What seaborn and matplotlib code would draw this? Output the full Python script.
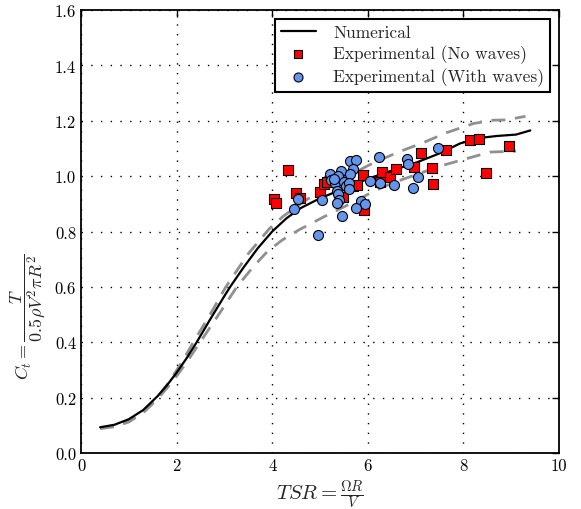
import numpy as np
import pandas as pd
import matplotlib
matplotlib.use("Agg")
import matplotlib.pyplot as plt
import seaborn as sns

# ---- data ----
num_tsr = [0.4, 0.7, 1.0, 1.3, 1.6, 1.8, 2.0, 2.2, 2.42, 2.7, 3.0, 3.12, 3.4, 3.7, 4.0,
           4.3, 4.6, 5.0, 5.5, 6.0, 6.5, 7.0, 7.5, 7.93, 8.35, 8.7, 9.1, 9.4]
num_ct = [0.093, 0.102, 0.122, 0.155, 0.205, 0.245, 0.29, 0.34, 0.4, 0.482, 0.567, 0.6,
          0.67, 0.74, 0.80, 0.848, 0.885, 0.92, 0.955, 0.99, 1.02, 1.048, 1.082, 1.118,
          1.138, 1.145, 1.15, 1.165]

up_tsr = [0.4, 0.7, 1.0, 1.3, 1.6, 1.9, 2.2, 2.35, 2.7, 3.03, 3.5, 3.94, 4.23, 4.72,
          5.3, 6.05, 6.6, 7.23, 7.65, 8.21, 8.63, 8.9, 9.3]
up_ct = [0.09, 0.098, 0.115, 0.148, 0.2, 0.27, 0.355, 0.4, 0.5, 0.6, 0.72, 0.81, 0.855,
         0.915, 0.975, 1.042, 1.084, 1.126, 1.157, 1.19, 1.202, 1.203, 1.216]

lo_tsr = [0.4, 0.7, 1.0, 1.3, 1.6, 1.9, 2.2, 2.49, 2.9, 3.26, 3.6, 3.9, 4.2, 4.55, 5.07,
          5.63, 6.12, 6.53, 7.02, 7.51, 8.0, 8.56, 9.1]
lo_ct = [0.088, 0.095, 0.112, 0.145, 0.195, 0.255, 0.325, 0.4, 0.505, 0.6, 0.672, 0.728,
         0.768, 0.805, 0.852, 0.9, 0.945, 0.976, 1.006, 1.036, 1.06, 1.087, 1.09]

nowave_tsr = [4.04, 4.08, 4.34, 4.50, 4.58, 5.01, 5.08, 5.14, 5.49, 5.70, 5.77, 5.91,
              5.92, 6.29, 6.26, 6.46, 6.60, 6.97, 7.11, 7.34, 7.37, 7.64, 8.14, 8.33,
              8.47, 8.95]
nowave_ct = [0.918, 0.904, 1.022, 0.94, 0.922, 0.944, 0.97, 0.98, 0.926, 0.964, 0.968,
             1.003, 0.877, 1.016, 0.98, 0.998, 1.024, 1.034, 1.084, 1.03, 0.970, 1.094,
             1.13, 1.135, 1.013, 1.107]

wave_tsr = [4.46, 4.55, 4.96, 5.04, 5.21, 5.24, 5.31, 5.35, 5.38, 5.40, 5.43, 5.38,
            5.45, 5.50, 5.54, 5.63, 5.75, 5.70, 5.63, 5.61, 5.61, 5.85, 5.94, 5.75,
            6.24, 6.05, 6.25, 6.55, 6.81, 6.85, 7.06, 6.94, 7.46, 5.30, 5.35]
wave_ct = [0.88, 0.918, 0.786, 0.912, 1.006, 0.986, 0.976, 0.948, 0.934, 0.914, 1.018,
           1.0, 0.856, 0.978, 0.964, 1.054, 1.058, 1.027, 1.006, 0.976, 0.955, 0.91,
           0.898, 0.886, 1.068, 0.982, 0.976, 0.968, 1.063, 1.045, 0.998, 0.958, 1.102,
           0.99, 0.904]

x_ticks = [0, 2, 4, 6, 8, 10]
y_ticks = [0.0, 0.2, 0.4, 0.6, 0.8, 1.0, 1.2, 1.4, 1.6]

# ---- style ----
sns.set_style("white")
plt.rcParams.update({
    "font.family": ["cmr10", "DejaVu Serif"],
    "mathtext.fontset": "cm",
    "axes.formatter.use_mathtext": True,
    "font.size": 12,
    "xtick.direction": "in",
    "ytick.direction": "in",
    "xtick.top": True,
    "ytick.right": True,
    "xtick.major.size": 5,
    "ytick.major.size": 5,
    "xtick.major.width": 1.0,
    "ytick.major.width": 1.0,
    "xtick.color": "black",
    "ytick.color": "black",
    "axes.edgecolor": "black",
    "axes.linewidth": 1.3,
})

fig = plt.figure(figsize=(5.81, 5.10), dpi=100)
ax = fig.add_axes([81 / 581, 1 - 454 / 510, (559 - 81) / 581, (454 - 11) / 510])

df_num = pd.DataFrame({"tsr": num_tsr, "ct": num_ct})
df_up = pd.DataFrame({"tsr": up_tsr, "ct": up_ct})
df_lo = pd.DataFrame({"tsr": lo_tsr, "ct": lo_ct})
df_nw = pd.DataFrame({"tsr": nowave_tsr, "ct": nowave_ct})
df_w = pd.DataFrame({"tsr": wave_tsr, "ct": wave_ct})

for d in (df_up, df_lo):
    sns.lineplot(data=d, x="tsr", y="ct", ax=ax, color="#909090", lw=2.0,
                 sort=False, estimator=None, label="_nolegend_",
                 linestyle=(0, (5, 3.5)), zorder=2)
sns.lineplot(data=df_num, x="tsr", y="ct", ax=ax, color="black", lw=1.6,
             sort=False, estimator=None, label="Numerical", zorder=3)
sns.scatterplot(data=df_nw, x="tsr", y="ct", ax=ax, marker="s", s=48, color="red",
                edgecolor="black", linewidth=0.8, label="Experimental (No waves)", zorder=4)
sns.scatterplot(data=df_w, x="tsr", y="ct", ax=ax, marker="o", s=52, color="#6495ed",
                edgecolor="black", linewidth=0.8, label="Experimental (With waves)", zorder=5)

ax.set_xlim(0, 10)
ax.set_ylim(0, 1.6)
ax.set_xticks(x_ticks)
ax.set_yticks(y_ticks)
ax.set_xticklabels([str(t) for t in x_ticks])
ax.set_yticklabels([f"{t:.1f}" for t in y_ticks])
ax.grid(True, color="black", linestyle=(0, (1, 6)), linewidth=1.0)
ax.set_axisbelow(True)
ax.set_xlabel(r"$TSR = \frac{\Omega R}{V}$", fontsize=15, labelpad=3)
ax.set_ylabel(r"$C_t = \dfrac{T}{0.5\rho V^2 \pi R^2}$", fontsize=13)
ax.yaxis.set_label_coords(-0.07, 0.31)
for sp in ax.spines.values():
    sp.set_visible(True)

leg = ax.legend(loc="upper right", frameon=True, fancybox=False, framealpha=1,
                edgecolor="black", fontsize=12.5, borderpad=0.35, labelspacing=0.25,
                handlelength=2.0, handletextpad=1.0, markerscale=0.9,
                bbox_to_anchor=(1.0, 1.0))
leg.get_frame().set_linewidth(1.5)

fig.savefig("out.png", dpi=100)
